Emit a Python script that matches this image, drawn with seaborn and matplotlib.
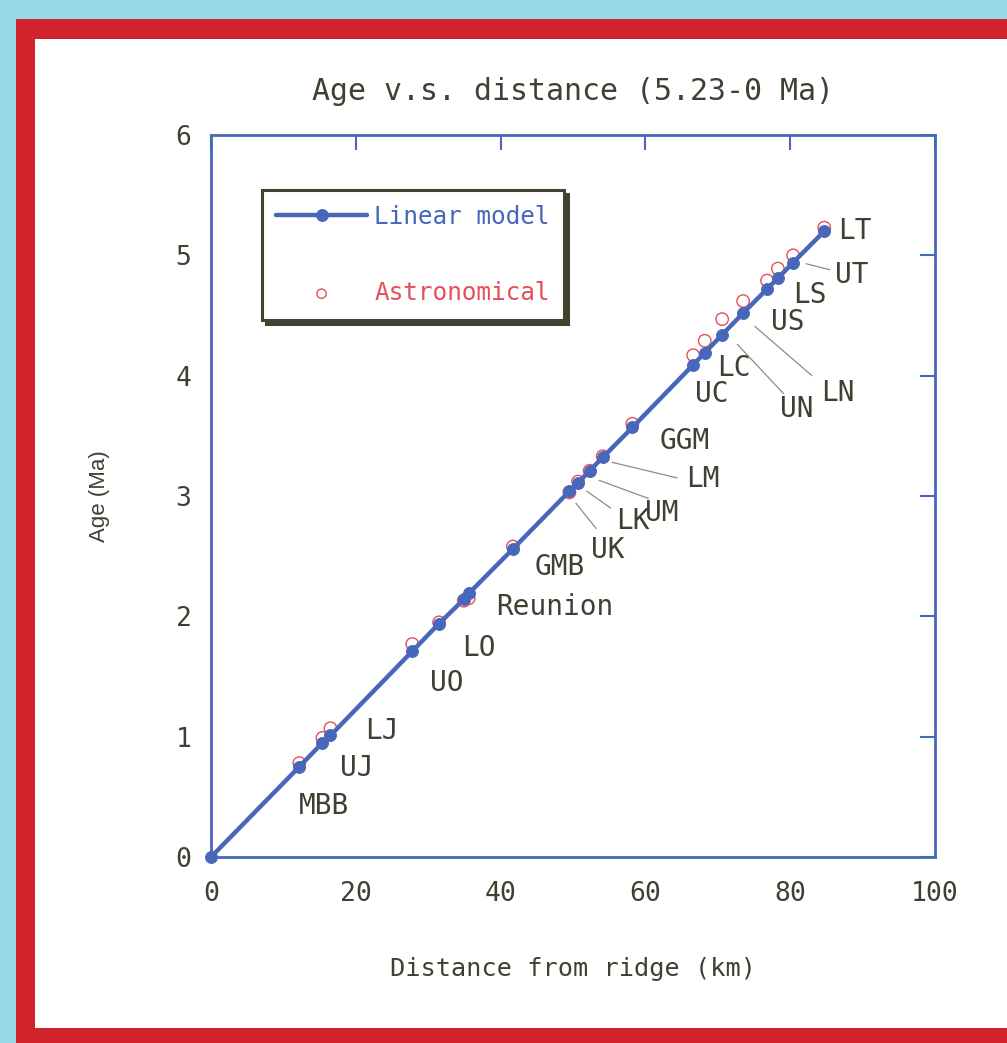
import matplotlib
matplotlib.use("Agg")
import matplotlib.pyplot as plt
from matplotlib import font_manager as fm
from matplotlib.patches import Rectangle
import seaborn as sns

# ---------------- data ----------------
linear_dist = [0.0, 12.2, 15.4, 16.5, 27.8, 31.5, 34.9, 35.6, 41.7, 49.5, 50.7,
               52.3, 54.1, 58.2, 66.6, 68.2, 70.6, 73.5, 76.8, 78.3, 80.4, 84.7]
linear_age = [0.0, 0.75, 0.95, 1.01, 1.71, 1.94, 2.14, 2.19, 2.56, 3.04, 3.11,
              3.21, 3.32, 3.57, 4.09, 4.19, 4.34, 4.52, 4.72, 4.81, 4.94, 5.20]

astro_dist = [12.2, 15.4, 16.5, 27.8, 31.5, 34.9, 35.6, 41.7, 49.5, 50.7,
              52.3, 54.1, 58.2, 66.6, 68.2, 70.6, 73.5, 76.8, 78.3, 80.4, 84.7]
astro_age = [0.78, 0.99, 1.07, 1.77, 1.95, 2.13, 2.15, 2.58, 3.03, 3.12,
             3.21, 3.33, 3.60, 4.17, 4.29, 4.47, 4.62, 4.79, 4.89, 5.00, 5.23]

label_names = ["LT", "UT", "LS", "US", "LN", "UN", "LC", "UC", "GGM", "LM", "UM",
               "LK", "UK", "GMB", "Reunion", "LO", "UO", "LJ", "UJ", "MBB"]
label_x = [88.9, 88.5, 82.7, 79.6, 86.6, 80.9, 72.2, 69.2, 65.5, 68.0, 62.3,
           58.3, 54.8, 48.2, 47.5, 37.0, 32.5, 23.6, 20.2, 15.6]
label_y = [5.20, 4.84, 4.67, 4.45, 3.86, 3.72, 4.06, 3.85, 3.46, 3.14, 2.86,
           2.79, 2.55, 2.41, 2.08, 1.74, 1.45, 1.05, 0.74, 0.42]

# leader lines: (x0, y0, x1, y1)
leaders = [(82.2, 4.93, 85.5, 4.88),   # UT
           (75.1, 4.41, 83.0, 4.00),   # LN
           (72.7, 4.26, 79.1, 3.85),   # UN
           (55.4, 3.28, 64.4, 3.15),   # LM
           (53.6, 3.13, 60.4, 2.98),   # UM
           (51.9, 3.04, 55.2, 2.90),   # LK
           (50.4, 2.94, 53.2, 2.73)]   # UK

x_ticks = [0, 20, 40, 60, 80, 100]
y_ticks = [0, 1, 2, 3, 4, 5, 6]

# ---------------- style ----------------
sns.set_style("white")
names = {f.name for f in fm.fontManager.ttflist}
mono = next((n for n in ["Noto Sans Mono CJK JP", "Noto Sans Mono CJK SC", "DejaVu Sans Mono"]
             if n in names), "DejaVu Sans Mono")
k = 1.2 if "CJK" in mono else 1.0
plt.rcParams["font.family"] = [mono, "DejaVu Sans"]

BLUE = "#4767ba"
RED = "#e64e5a"
TXT = "#3c4232"

fig = plt.figure(figsize=(10.07, 10.43), dpi=100, facecolor="#97d8e6")
fig.patches.append(Rectangle((16 / 1007, 0), 1, (1043 - 19) / 1043,
                             transform=fig.transFigure, facecolor="#d1232b",
                             edgecolor="none", zorder=-10))
fig.patches.append(Rectangle((35 / 1007, 15 / 1043), 1, (1028 - 39) / 1043,
                             transform=fig.transFigure, facecolor="white",
                             edgecolor="none", zorder=-9))

ax = fig.add_axes([211 / 1007, (1043 - 857) / 1043, 724 / 1007, 722 / 1043])
ax.set_facecolor("white")

sns.scatterplot(x=astro_dist, y=astro_age, ax=ax, color=RED, s=80, marker="o",
                linewidth=1.0, label="Astronomical", zorder=2, legend=False)
sc = ax.collections[-1]
sc.set_facecolor("none")
sc.set_edgecolor(RED)

sns.lineplot(x=linear_dist, y=linear_age, ax=ax, color=BLUE, lw=3.2, marker="o",
             ms=8.5, mec=BLUE, mfc=BLUE, sort=False, estimator=None,
             label="Linear model", zorder=3, clip_on=False, legend=False)

for (x0, y0, x1, y1) in leaders:
    ax.annotate("", xy=(x0, y0), xytext=(x1, y1),
                arrowprops=dict(arrowstyle="-", color="#8c8c8c", lw=0.9,
                                shrinkA=0, shrinkB=0))

for n, x, y in zip(label_names, label_x, label_y):
    ax.text(x, y, n, ha="center", va="center", fontsize=20 * k, color=TXT)

ax.set_xlim(0, 100)
ax.set_ylim(0, 6)
ax.set_xticks(x_ticks)
ax.set_yticks(y_ticks)
ax.tick_params(axis="both", direction="in", length=10.8, width=1.5, color=BLUE,
               top=True, right=True, labelsize=19 * k, labelcolor=TXT)
ax.tick_params(axis="x", pad=17)
ax.tick_params(axis="y", pad=14)
for sp in ax.spines.values():
    sp.set_color(BLUE)
    sp.set_linewidth(2.0)
    sp.set_visible(True)

ax.set_title("Age v.s. distance (5.23-0 Ma)", fontsize=21.5 * k, color=TXT, pad=25)
ax.set_xlabel("Distance from ridge (km)", fontsize=18.2 * k, color=TXT)
ax.set_ylabel("Age (Ma)", fontsize=16, color=TXT,
              fontfamily=["Liberation Sans", "DejaVu Sans"])
ax.xaxis.set_label_coords(0.5, -0.138)
ax.yaxis.set_label_coords(-0.140, 0.5)

handles, labels = ax.get_legend_handles_labels()
order = [labels.index("Linear model"), labels.index("Astronomical")]
leg = ax.legend([handles[i] for i in order], [labels[i] for i in order],
                loc="upper left", bbox_to_anchor=(0.070, 0.924), borderaxespad=0,
                fontsize=17.6 * k, frameon=True, fancybox=False, framealpha=1,
                edgecolor="#3e4430", borderpad=0.6, labelspacing=2.15,
                handlelength=3.7, handletextpad=0.3,
                shadow={"ox": 3, "oy": -3, "color": "#3e4430", "alpha": 1.0})
leg.get_frame().set_linewidth(2.2)
leg.get_texts()[0].set_color(BLUE)
leg.get_texts()[1].set_color(RED)
for h in leg.legend_handles:
    if hasattr(h, "set_sizes"):
        h.set_sizes([45])

fig.savefig("out.png", dpi=100, facecolor=fig.get_facecolor())
